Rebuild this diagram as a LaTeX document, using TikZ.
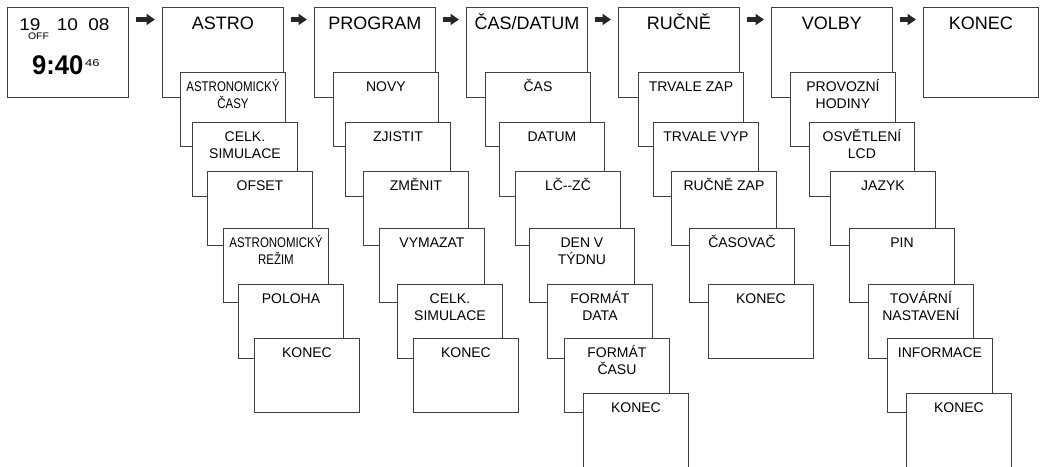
\documentclass[tikz,border=0pt]{standalone}
\usepackage{fontspec}
\setmainfont{Liberation Sans}
\usetikzlibrary{arrows.meta}

\newcommand{\twolines}[2]{\begin{tabular}[t]{@{}c@{}}#1\\#2\end{tabular}}
\newcommand{\narrow}[1]{\scalebox{0.82}[1]{#1}}
\newcommand{\wide}[1]{\scalebox{1.12}[1]{#1}}

\begin{document}
\begin{tikzpicture}[x=1pt, y=-1pt,
  menu/.style={draw=black!75, line width=0.9pt, fill=white, anchor=north west,
    minimum width=121pt, minimum height=90pt, inner sep=0pt},
  item/.style={menu, minimum width=105pt, minimum height=74pt},
  head/.style={anchor=base, inner sep=0pt, font=\fontsize{18}{21}\selectfont},
  txt/.style={anchor=base, inner sep=0pt, font=\fontsize{14}{17}\selectfont},
  lcd/.style={anchor=base, inner sep=0pt, font=\fontsize{17}{20}\selectfont},
  next/.style={-{Triangle[length=8.5pt 0 0, width=11pt 0 0]}, line width=4.4pt, black!85}
]
\useasboundingbox (0,0) rectangle (1040,466);

% display
\node[menu] (clock) at (7,7) {};
\node[lcd] (hour) at (30,30) {\wide{19}};
\node[lcd] (month) at (67.5,30) {\wide{10}};
\node[lcd] (year) at (99,30) {\wide{08}};
\node[anchor=base, inner sep=0pt, font=\fontsize{9.5}{11}\selectfont] (off) at (38.5,39.3) {\scalebox{1.1}[1]{OFF}};
\node[anchor=base, inner sep=0pt, font=\fontsize{27}{30}\bfseries] (time) at (57.8,74) {\scalebox{0.95}[1]{9:40}};
\node[anchor=base west, inner sep=0pt, font=\fontsize{10}{12}\selectfont] (sec) at (85,66.7) {\scalebox{1.3}[1]{46}};

% main menu
\node[menu] (astro) at (162,7) {};
\node[head] (astro-t) at ([yshift=-22.5pt]astro.north) {ASTRO};
\node[menu] (program) at (314,7) {};
\node[head] (program-t) at ([yshift=-22.5pt]program.north) {PROGRAM};
\node[menu] (cas) at (466,7) {};
\node[head] (cas-t) at ([yshift=-22.5pt]cas.north) {ČAS/DATUM};
\node[menu] (rucne) at (618,7) {};
\node[head] (rucne-t) at ([yshift=-22.5pt]rucne.north) {RUČNĚ};
\node[menu] (volby) at (771,7) {};
\node[head] (volby-t) at ([yshift=-22.5pt]volby.north) {VOLBY};
\node[menu, minimum width=115pt] (konec) at (923,7) {};
\node[head] (konec-t) at ([yshift=-22.5pt]konec.north) {KONEC};

\draw[next] ([shift={(7,12.5)}]clock.north east) -- ([shift={(-7,12.5)}]astro.north west);
\draw[next] ([shift={(7,12.5)}]astro.north east) -- ([shift={(-7,12.5)}]program.north west);
\draw[next] ([shift={(7,12.5)}]program.north east) -- ([shift={(-7,12.5)}]cas.north west);
\draw[next] ([shift={(7,12.5)}]cas.north east) -- ([shift={(-7,12.5)}]rucne.north west);
\draw[next] ([shift={(7,12.5)}]rucne.north east) -- ([shift={(-7,12.5)}]volby.north west);
\draw[next] ([shift={(7,12.5)}]volby.north east) -- ([shift={(-7,12.5)}]konec.north west);

% submenus
\foreach \x/\y/\t [count=\i] in {180/72/\narrow{\twolines{ASTRONOMICKÝ}{ČASY}},
    192/122/\twolines{CELK.}{SIMULACE}, 207/171/OFSET,
    223/228/\narrow{\twolines{ASTRONOMICKÝ}{REŽIM}}, 238/284/POLOHA, 254/338/KONEC} {
  \node[item] (astro-\i) at (\x,\y) {};
  \node[txt] (astro-\i-t) at ([yshift=-19.5pt]astro-\i.north) {\t};
}
\foreach \x/\y/\t [count=\i] in {333/72/NOVY, 345/122/ZJISTIT, 363/171/ZMĚNIT,
    379/228/VYMAZAT, 397/284/\twolines{CELK.}{SIMULACE}, 413/338/KONEC} {
  \node[item] (program-\i) at (\x,\y) {};
  \node[txt] (program-\i-t) at ([yshift=-19.5pt]program-\i.north) {\t};
}
\foreach \x/\y/\t [count=\i] in {485/72/ČAS, 499/122/DATUM, 515/171/LČ-{}-ZČ,
    529/228/\twolines{DEN V}{TÝDNU}, 547/284/\twolines{FORMÁT}{DATA},
    564/338/\twolines{FORMÁT}{ČASU}, 583/393/KONEC} {
  \node[item] (cas-\i) at (\x,\y) {};
  \node[txt] (cas-\i-t) at ([yshift=-19.5pt]cas-\i.north) {\t};
}
\foreach \x/\y/\t [count=\i] in {638/72/TRVALE ZAP, 653/122/TRVALE VYP,
    671/171/RUČNĚ ZAP, 689/228/ČASOVAČ, 708/284/KONEC} {
  \node[item] (rucne-\i) at (\x,\y) {};
  \node[txt] (rucne-\i-t) at ([yshift=-19.5pt]rucne-\i.north) {\t};
}
\foreach \x/\y/\t [count=\i] in {790/72/\twolines{PROVOZNÍ}{HODINY},
    809/122/\twolines{OSVĚTLENÍ}{LCD}, 830/171/JAZYK, 849/228/PIN,
    868/284/\twolines{TOVÁRNÍ}{NASTAVENÍ}, 887/338/INFORMACE, 906/393/KONEC} {
  \node[item] (volby-\i) at (\x,\y) {};
  \node[txt] (volby-\i-t) at ([yshift=-19.5pt]volby-\i.north) {\t};
}
\end{tikzpicture}
\end{document}
